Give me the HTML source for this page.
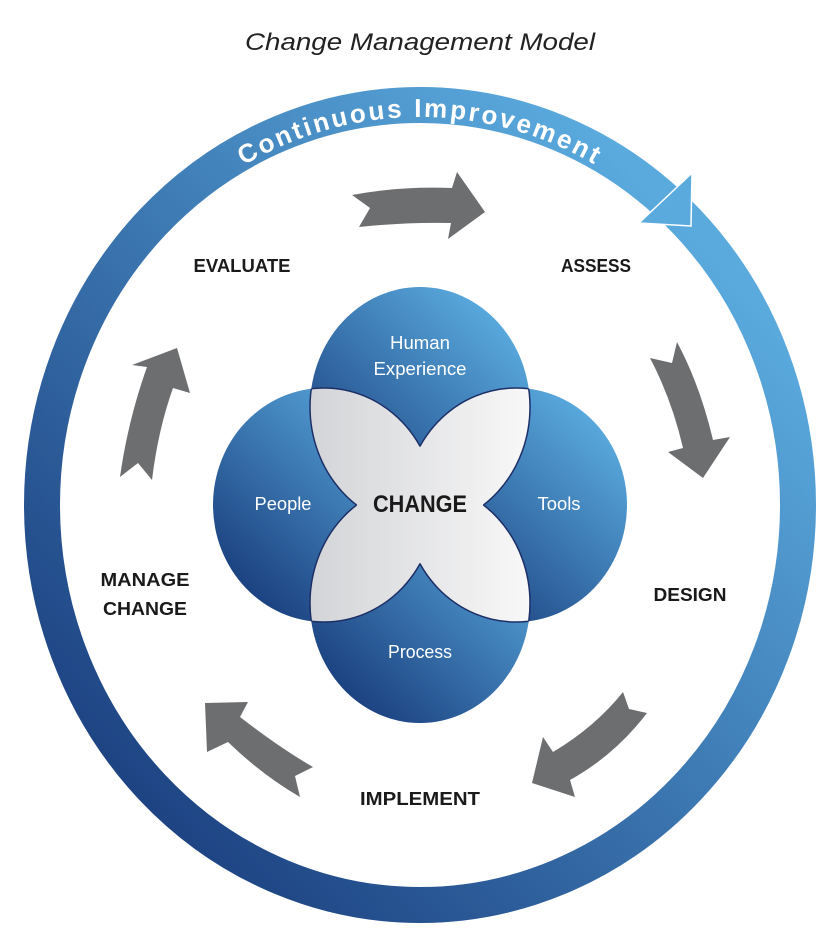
<!DOCTYPE html>
<html><head><meta charset="utf-8"><style>html,body{margin:0;padding:0;background:#fff}svg{display:block}</style></head>
<body>
<svg width="840" height="949" viewBox="0 0 840 949" xmlns="http://www.w3.org/2000/svg" font-family="'Liberation Sans', sans-serif">
<defs>
<linearGradient id="ring" x1="0" y1="1" x2="1" y2="0"><stop offset="0.1" stop-color="#1b3f7f"/><stop offset="0.85" stop-color="#5aaade"/></linearGradient>
<linearGradient id="cg" x1="0.15" y1="0.9" x2="0.85" y2="0.1"><stop offset="0" stop-color="#1a3f7e"/><stop offset="1" stop-color="#5aabdf"/></linearGradient>
<linearGradient id="pg" gradientUnits="userSpaceOnUse" x1="310" y1="0" x2="530" y2="0"><stop offset="0" stop-color="#d3d4d7"/><stop offset="1" stop-color="#f8f8f8"/></linearGradient>
<clipPath id="cLR"><ellipse cx="324" cy="505" rx="111" ry="117"/><ellipse cx="516" cy="505" rx="111" ry="117"/></clipPath>
<mask id="mT" maskUnits="userSpaceOnUse" x="0" y="0" width="840" height="949"><ellipse cx="324" cy="505" rx="111" ry="117" fill="#fff"/><ellipse cx="516" cy="505" rx="111" ry="117" fill="#fff"/><ellipse cx="420" cy="603" rx="110" ry="120" fill="#000"/></mask>
<mask id="mB" maskUnits="userSpaceOnUse" x="0" y="0" width="840" height="949"><ellipse cx="324" cy="505" rx="111" ry="117" fill="#fff"/><ellipse cx="516" cy="505" rx="111" ry="117" fill="#fff"/><ellipse cx="420" cy="407" rx="110" ry="120" fill="#000"/></mask>
<mask id="mL" maskUnits="userSpaceOnUse" x="0" y="0" width="840" height="949"><ellipse cx="420" cy="407" rx="110" ry="120" fill="#fff"/><ellipse cx="420" cy="603" rx="110" ry="120" fill="#fff"/><ellipse cx="516" cy="505" rx="111" ry="117" fill="#000"/></mask>
<mask id="mR" maskUnits="userSpaceOnUse" x="0" y="0" width="840" height="949"><ellipse cx="420" cy="407" rx="110" ry="120" fill="#fff"/><ellipse cx="420" cy="603" rx="110" ry="120" fill="#fff"/><ellipse cx="324" cy="505" rx="111" ry="117" fill="#000"/></mask>
<path id="arc" d="M 56 505 A 364 388 0 0 1 784 505"/>
</defs>
<text x="420" y="50" text-anchor="middle" font-size="24" font-style="italic" fill="#222" textLength="350" lengthAdjust="spacingAndGlyphs">Change Management Model</text>
<ellipse cx="420" cy="505" rx="378" ry="400" fill="none" stroke="url(#ring)" stroke-width="36"/>
<polygon points="692,173 639,223 691,226" fill="#5aaade" stroke="#fff" stroke-width="1.5"/>
<text font-size="26" font-weight="bold" fill="#fff" letter-spacing="2.5"><textPath href="#arc" startOffset="50%" text-anchor="middle">Continuous Improvement</textPath></text>
<g fill="#6d6e70">
<path d="M352,195 Q400,186 452,188 L457,172 L485,212 L448,239 L451,223 Q405,222 359,227 L370,208 Z"/>
<path d="M677,342 Q700,385 713,440 L730,437 L703,478 L668,452 L683,448 Q672,400 650,358 L672,363 Z"/>
<path d="M623,692 L629,709 L647,713 Q615,755 570,780 L575,797 L532,783 L543,737 L553,752 Q595,727 623,692 Z"/>
<path d="M205,703 L248,702 L240,717 Q280,748 313,767 L295,776 L300,797 Q262,775 228,742 L207,752 Z"/>
<path d="M177,348 L190,393 L173,388 Q158,430 152,480 L138,463 L120,477 Q128,420 147,367 L132,365 Z"/>
</g>
<ellipse cx="420" cy="407" rx="110" ry="120" fill="url(#cg)"/>
<ellipse cx="420" cy="603" rx="110" ry="120" fill="url(#cg)"/>
<ellipse cx="324" cy="505" rx="111" ry="117" fill="url(#cg)"/>
<ellipse cx="516" cy="505" rx="111" ry="117" fill="url(#cg)"/>
<g clip-path="url(#cLR)" fill="url(#pg)">
<ellipse cx="420" cy="407" rx="110" ry="120"/><ellipse cx="420" cy="603" rx="110" ry="120"/>
</g>
<g fill="none" stroke="#1d2f66" stroke-width="1.5">
<ellipse mask="url(#mT)" cx="420" cy="407" rx="110" ry="120"/>
<ellipse mask="url(#mB)" cx="420" cy="603" rx="110" ry="120"/>
<ellipse mask="url(#mL)" cx="324" cy="505" rx="111" ry="117"/>
<ellipse mask="url(#mR)" cx="516" cy="505" rx="111" ry="117"/>
</g>
<g fill="#fff" font-size="18" text-anchor="middle">
<text x="420" y="349" textLength="60" lengthAdjust="spacingAndGlyphs">Human</text>
<text x="420" y="375" textLength="93" lengthAdjust="spacingAndGlyphs">Experience</text>
<text x="283" y="510" textLength="57" lengthAdjust="spacingAndGlyphs">People</text>
<text x="559" y="510" textLength="43" lengthAdjust="spacingAndGlyphs">Tools</text>
<text x="420" y="658" textLength="64" lengthAdjust="spacingAndGlyphs">Process</text>
</g>
<g fill="#1a1a1a" font-weight="bold" text-anchor="middle">
<text x="420" y="512" font-size="24" textLength="94" lengthAdjust="spacingAndGlyphs">CHANGE</text>
<text x="242" y="272" font-size="18" textLength="97" lengthAdjust="spacingAndGlyphs">EVALUATE</text>
<text x="596" y="272" font-size="18" textLength="70" lengthAdjust="spacingAndGlyphs">ASSESS</text>
<text x="690" y="601" font-size="18" textLength="73" lengthAdjust="spacingAndGlyphs">DESIGN</text>
<text x="420" y="805" font-size="18" textLength="120" lengthAdjust="spacingAndGlyphs">IMPLEMENT</text>
<text x="145" y="586" font-size="18" textLength="89" lengthAdjust="spacingAndGlyphs">MANAGE</text>
<text x="145" y="615" font-size="18" textLength="84" lengthAdjust="spacingAndGlyphs">CHANGE</text>
</g>
</svg>
</body></html>
